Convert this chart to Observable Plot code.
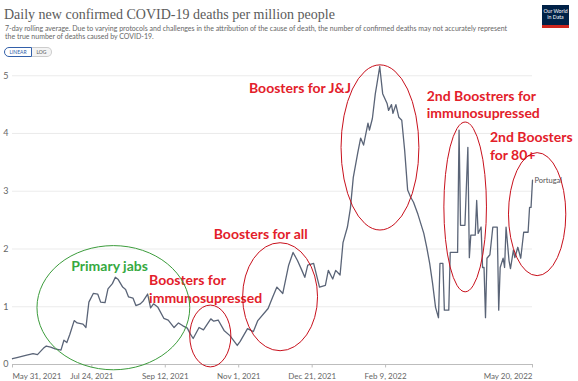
<!DOCTYPE html>
<html><head><meta charset="utf-8">
<script src="https://cdn.jsdelivr.net/npm/d3@7"></script>
<script src="https://cdn.jsdelivr.net/npm/@observablehq/plot@0.6"></script>
<style>
body{margin:0;background:#fff;width:578px;height:381px;overflow:hidden;font-family:Lato,sans-serif;}
#header{position:relative;width:578px;height:60px;}
#title{position:absolute;left:4px;top:7px;font-family:"Liberation Serif",serif;font-size:14px;line-height:15px;color:#5b5b5b;white-space:nowrap;}
#sub{position:absolute;left:5px;top:25px;font-size:7px;line-height:7.5px;color:#666;white-space:nowrap;}
.btn{position:absolute;top:47px;height:8px;font-size:5px;line-height:8px;text-align:center;color:#555;border:1px solid #ccc;background:#f4f4f4;}
#lin{left:4px;width:26px;border:1px solid #3360a9;border-radius:5px 0 0 5px;background:#fff;color:#3360a9;}
#log{left:32px;width:19px;border-left:none;border-radius:0 5px 5px 0;}
#logo{position:absolute;left:542px;top:5px;width:27px;background:#002147;border-bottom:3px solid #ce261e;color:#fff;font-size:5.2px;line-height:6px;text-align:center;padding-top:3px;box-sizing:content-box;height:17px;}
#chart svg{display:block;overflow:visible;}
</style></head><body>
<div id="header">
  <div id="title">Daily new confirmed COVID-19 deaths per million people</div>
  <div id="sub">7-day rolling average. Due to varying protocols and challenges in the attribution of the cause of death, the number of confirmed deaths may not accurately represent<br>the true number of deaths caused by COVID-19.</div>
  <div class="btn" id="lin">LINEAR</div>
  <div class="btn" id="log">LOG</div>
  <div id="logo">Our World<br>in Data</div>
</div>
<div id="chart"></div>
<script>
// ---- data: Portugal, daily new confirmed COVID-19 deaths per million (7-day avg)
const dates = [
"2021-05-31","2021-06-03","2021-06-09","2021-06-14","2021-06-17","2021-06-21","2021-06-23","2021-06-26","2021-06-29","2021-07-03",
"2021-07-05","2021-07-07","2021-07-09","2021-07-12","2021-07-14","2021-07-18","2021-07-20","2021-07-22","2021-07-25","2021-07-28",
"2021-07-30","2021-08-02","2021-08-04","2021-08-07","2021-08-09","2021-08-11","2021-08-14","2021-08-16","2021-08-18","2021-08-21",
"2021-08-23","2021-08-26","2021-08-28","2021-08-31","2021-09-02","2021-09-04","2021-09-07","2021-09-11","2021-09-14","2021-09-18",
"2021-09-21","2021-09-24","2021-09-27","2021-09-29","2021-10-01","2021-10-05","2021-10-08","2021-10-13","2021-10-15","2021-10-18",
"2021-10-22","2021-10-26","2021-10-31","2021-11-02","2021-11-07","2021-11-11","2021-11-14","2021-11-21","2021-11-24","2021-11-27",
"2021-12-01","2021-12-05","2021-12-08","2021-12-11","2021-12-14","2021-12-16","2021-12-18","2021-12-22","2021-12-26","2021-12-30",
"2022-01-01","2022-01-04","2022-01-06","2022-01-09","2022-01-11","2022-01-14","2022-01-16","2022-01-18","2022-01-21","2022-01-23",
"2022-01-25","2022-01-28","2022-01-29","2022-01-31","2022-02-02","2022-02-03","2022-02-05","2022-02-07","2022-02-10","2022-02-11",
"2022-02-13","2022-02-14","2022-02-16","2022-02-18","2022-02-20","2022-02-22","2022-02-24","2022-02-26","2022-02-28","2022-03-03",
"2022-03-07","2022-03-09","2022-03-11","2022-03-13","2022-03-15","2022-03-17","2022-03-18","2022-03-20","2022-03-21","2022-03-24",
"2022-03-25","2022-03-30","2022-03-31","2022-04-01","2022-04-04","2022-04-06","2022-04-07","2022-04-08","2022-04-11","2022-04-12",
"2022-04-13","2022-04-15","2022-04-16","2022-04-17","2022-04-18","2022-04-19","2022-04-21","2022-04-23","2022-04-26","2022-04-27",
"2022-04-28","2022-04-30","2022-05-01","2022-05-02","2022-05-04","2022-05-05","2022-05-07","2022-05-08","2022-05-10","2022-05-12",
"2022-05-14","2022-05-17","2022-05-18","2022-05-19","2022-05-20"];
const deaths = [
0.10,0.12,0.16,0.19,0.17,0.28,0.32,0.30,0.27,0.25,
0.42,0.38,0.52,0.76,0.72,0.70,0.64,1.08,1.23,1.22,
1.08,1.07,1.31,1.40,1.51,1.47,1.34,1.30,1.17,1.15,
1.02,1.05,1.10,1.22,0.98,1.05,0.99,0.80,0.77,0.64,
0.72,0.67,0.63,0.53,0.45,0.64,0.60,0.79,0.75,0.77,
0.59,0.50,0.33,0.40,0.62,0.57,0.76,0.97,1.16,1.34,
1.23,1.72,1.94,1.80,1.63,1.51,1.72,1.75,1.34,1.37,
1.63,1.48,1.63,1.55,2.11,2.38,2.70,3.24,3.66,3.92,
3.80,4.18,4.06,4.26,4.69,4.84,5.16,4.69,4.52,4.40,
4.50,4.35,4.50,4.28,4.23,3.70,3.02,2.90,2.81,2.60,
2.27,2.03,1.75,1.40,0.99,0.81,1.75,1.75,0.94,0.94,
1.94,1.94,4.06,2.41,2.41,3.76,1.85,2.24,2.24,2.84,
2.27,2.38,1.68,1.68,0.81,1.84,1.90,2.38,2.38,0.94,
1.68,1.84,1.68,2.38,1.80,1.66,1.98,1.85,2.03,1.84,
2.29,2.29,2.72,2.72,3.19];
const entity = "Portugal";
const yTicks = [1, 2, 3, 4, 5];
const xTickFirst = ["2021-05-31"];
const xTickMid = ["2021-07-24","2021-09-12","2021-11-01","2021-12-21","2022-02-09"];
const xTickLast = ["2022-05-20"];

// ---- hand-drawn annotations (anchored in data units)
const labelTexts  = ["Primary jabs","Boosters for","immunosupressed","Boosters for all","Boosters for J&J","2nd Boostrers for","immunosupressed","2nd Boosters","for 80+"];
const labelDates  = ["2021-07-10","2021-09-01","2021-09-01","2021-10-15","2021-11-08","2022-03-09","2022-03-09","2022-04-21","2022-04-21"];
const labelValues = [1.69,1.46,1.14,2.25,4.78,4.64,4.35,3.93,3.62];
const labelGroup  = ["green","red","red","red","red","red","red","red","red"];
const ovalStart = ["2021-06-17","2021-09-29","2021-11-04","2022-01-10","2022-03-21","2022-05-04"];
const ovalEnd   = ["2021-09-29","2021-10-27","2021-12-25","2022-03-04","2022-04-19","2022-06-12"];
const ovalTop   = [2.05,1.02,2.10,5.18,4.19,3.66];
const ovalBottom= [-0.10,-0.05,0.23,2.32,1.25,1.53];
const ovalGroup = ["green","red","red","red","red","red"];

const parse = d3.utcParse("%Y-%m-%d");
const fmt = d3.utcFormat("%b %-d, %Y");
const rows = dates.map((d, i) => ({date: parse(d), value: deaths[i]}));
const labels = labelTexts.map((t, i) => ({text: t, date: parse(labelDates[i]), value: labelValues[i], group: labelGroup[i]}));
const last = rows[rows.length - 1];
const colors = {green: "#36a93f", red: "#e3202a"};
const ovalColors = {green: "#3c9c3c", red: "#c8101c"};

const chart = Plot.plot({
  width: 578, height: 321,
  marginTop: 6, marginBottom: 17, marginLeft: 12, marginRight: 46,
  style: {fontFamily: "Lato, sans-serif", overflow: "visible"},
  x: {type: "utc", domain: [rows[0].date, last.date], axis: null},
  y: {domain: [0, 5.16], axis: null},
  marks: [
    Plot.ruleY(yTicks, {y: d => d, stroke: "#e6e6e6", strokeWidth: 0.8}),
    Plot.text([0, ...yTicks], {y: d => d, frameAnchor: "left", textAnchor: "end", dx: -4, text: d => String(d), fill: "#666", fontSize: 9}),
    Plot.ruleY([0], {stroke: "#bdbdbd", strokeWidth: 1}),
    Plot.ruleX([...xTickFirst, ...xTickMid, ...xTickLast].map(parse), {x: d => d, y1: 0, y2: -0.06, stroke: "#bdbdbd"}),
    Plot.text(xTickFirst.map(parse), {x: d => d, y: 0, dy: 12, text: d => fmt(d), textAnchor: "start", fill: "#666", fontSize: 8}),
    Plot.text(xTickMid.map(parse), {x: d => d, y: 0, dy: 12, text: d => fmt(d), textAnchor: "middle", fill: "#666", fontSize: 8}),
    Plot.text(xTickLast.map(parse), {x: d => d, y: 0, dy: 12, text: d => fmt(d), textAnchor: "end", fill: "#666", fontSize: 8}),
    Plot.line(rows, {x: "date", y: "value", stroke: "#5a6477", strokeWidth: 1.3}),
    Plot.text([last], {x: "date", y: "value", text: () => entity, dx: 2, textAnchor: "start", fill: "#555", fontSize: 7.5}),
    Plot.text(labels, {x: "date", y: "value", text: "text", fill: d => colors[d.group], textAnchor: "start", fontSize: 14, fontWeight: "bold"})
  ]
});
document.getElementById("chart").appendChild(chart);

// ovals via the chart's own scales
const xs = chart.scale("x"), ys = chart.scale("y");
const g = d3.select(chart).append("g").attr("fill", "none");
ovalStart.forEach((s, i) => {
  const x1 = xs.apply(parse(s)), x2 = xs.apply(parse(ovalEnd[i]));
  const y1 = ys.apply(ovalTop[i]), y2 = ys.apply(ovalBottom[i]);
  g.append("ellipse")
    .attr("cx", (x1 + x2) / 2).attr("cy", (y1 + y2) / 2)
    .attr("rx", Math.abs(x2 - x1) / 2).attr("ry", Math.abs(y2 - y1) / 2)
    .attr("stroke", ovalColors[ovalGroup[i]]).attr("stroke-width", 1);
});
</script>
</body></html>
